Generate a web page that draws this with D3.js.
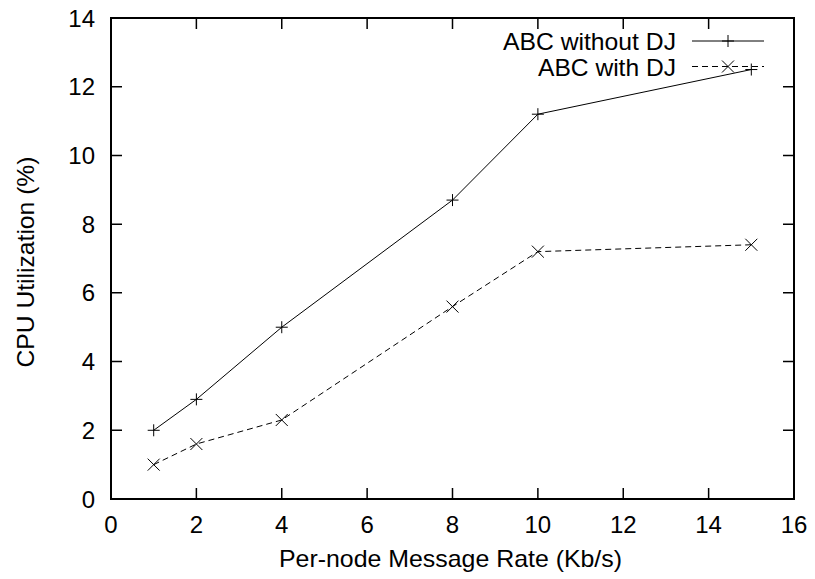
<!DOCTYPE html>
<html>
<head>
<meta charset="utf-8">
<script src="https://cdn.jsdelivr.net/npm/d3@7"></script>
<style>
  body { margin: 0; background: #fff; }
  text { font-family: "Liberation Sans", Arial, sans-serif; fill: #000; }
</style>
</head>
<body>
<div id="chart"></div>
<script>
'use strict';

// data
var rates = [1, 2, 4, 8, 10, 15]
var withoutDJ = [2.0, 2.9, 5.0, 8.7, 11.2, 12.5]
var withDJ = [1.0, 1.6, 2.3, 5.6, 7.2, 7.4]
var xTicks = [0, 2, 4, 6, 8, 10, 12, 14, 16]
var yTicks = [0, 2, 4, 6, 8, 10, 12, 14]
var seriesNames = ['ABC without DJ', 'ABC with DJ']

var W = 815, H = 579
var margin = {top: 18, right: 21, bottom: 80, left: 111}
var width = W - margin.left - margin.right
var height = H - margin.top - margin.bottom

var svg = d3.select('#chart').append('svg')
    .attr('width', W)
    .attr('height', H)

var g = svg.append('g')
    .attr('transform', 'translate(' + margin.left + ',' + margin.top + ')')

var x = d3.scaleLinear().domain([0, 16]).range([0, width])
var y = d3.scaleLinear().domain([0, 14]).range([height, 0])

var tickLen = 11
var fontSize = 24

// Ticks, mirrored on all four sides
g.selectAll('line.xt')
    .data(xTicks.slice(1, -1))
  .enter().append('path')
    .attr('d', function(d) {
      return 'M' + x(d) + ',' + height + 'v' + (-tickLen) +
        'M' + x(d) + ',0v' + tickLen
    })
    .style('stroke', '#000')
    .style('stroke-width', 1.5)

g.selectAll('line.yt')
    .data(yTicks.slice(1, -1))
  .enter().append('path')
    .attr('d', function(d) {
      return 'M0,' + y(d) + 'h' + tickLen +
        'M' + width + ',' + y(d) + 'h' + (-tickLen)
    })
    .style('stroke', '#000')
    .style('stroke-width', 1.5)

// Frame
g.append('rect')
    .attr('width', width)
    .attr('height', height)
    .style('fill', 'none')
    .style('stroke', '#000')
    .style('stroke-width', 2)

// Tick labels
g.selectAll('text.xl')
    .data(xTicks)
  .enter().append('text')
    .attr('x', function(d) { return x(d) })
    .attr('y', height + 34)
    .attr('text-anchor', 'middle')
    .style('font-size', fontSize + 'px')
    .text(function(d) { return d })

g.selectAll('text.yl')
    .data(yTicks)
  .enter().append('text')
    .attr('x', -16)
    .attr('y', function(d) { return y(d) + 8.5 })
    .attr('text-anchor', 'end')
    .style('font-size', fontSize + 'px')
    .text(function(d) { return d })

// Axis titles
g.append('text')
    .attr('x', (279 + 622) / 2 - margin.left)
    .attr('y', height + 68)
    .attr('text-anchor', 'middle')
    .attr('textLength', 343)
    .attr('lengthAdjust', 'spacingAndGlyphs')
    .style('font-size', fontSize + 'px')
    .text('Per-node Message Rate (Kb/s)')

svg.append('text')
    .attr('transform', 'translate(34,262) rotate(-90)')
    .attr('text-anchor', 'middle')
    .attr('textLength', 211)
    .attr('lengthAdjust', 'spacingAndGlyphs')
    .style('font-size', fontSize + 'px')
    .text('CPU Utilization (%)')

// Markers
var msize = 6
function plus(cx, cy) {
  return 'M' + (cx - msize) + ',' + cy + 'h' + (2 * msize) +
    'M' + cx + ',' + (cy - msize) + 'v' + (2 * msize)
}
function cross(cx, cy) {
  return 'M' + (cx - msize) + ',' + (cy - msize) + 'l' + (2 * msize) + ',' + (2 * msize) +
    'M' + (cx - msize) + ',' + (cy + msize) + 'l' + (2 * msize) + ',' + (-2 * msize)
}

var series = [
  {name: seriesNames[0], values: withoutDJ, dash: null, marker: plus},
  {name: seriesNames[1], values: withDJ, dash: '6,4', marker: cross}
]

var line = d3.line()
  .x(function(d) { return x(d[0]) })
  .y(function(d) { return y(d[1]) })

series.forEach(function(s) {
  var pts = rates.map(function(r, i) { return [r, s.values[i]] })
  g.append('path')
    .datum(pts)
    .attr('d', line)
    .style('fill', 'none')
    .style('stroke', '#000')
    .style('stroke-width', 1)
    .style('stroke-dasharray', s.dash)

  g.selectAll(null)
      .data(pts)
    .enter().append('path')
      .attr('d', function(d) { return s.marker(x(d[0]), y(d[1])) })
      .style('stroke', '#000')
      .style('stroke-width', 1)
})

// Legend
var legend = svg.append('g')
var legendWidths = [173, 138]
series.forEach(function(s, i) {
  var ly = 41 + i * 25.5
  legend.append('text')
    .attr('x', 676)
    .attr('y', ly + 9)
    .attr('text-anchor', 'end')
    .attr('textLength', legendWidths[i])
    .attr('lengthAdjust', 'spacingAndGlyphs')
    .style('font-size', fontSize + 'px')
    .text(s.name)
  legend.append('path')
    .attr('d', 'M692,' + ly + 'H764')
    .style('stroke', '#000')
    .style('stroke-width', 1)
    .style('stroke-dasharray', s.dash)
  legend.append('path')
    .attr('d', s.marker(728, ly))
    .style('stroke', '#000')
    .style('stroke-width', 1)
})
</script>
</body>
</html>
